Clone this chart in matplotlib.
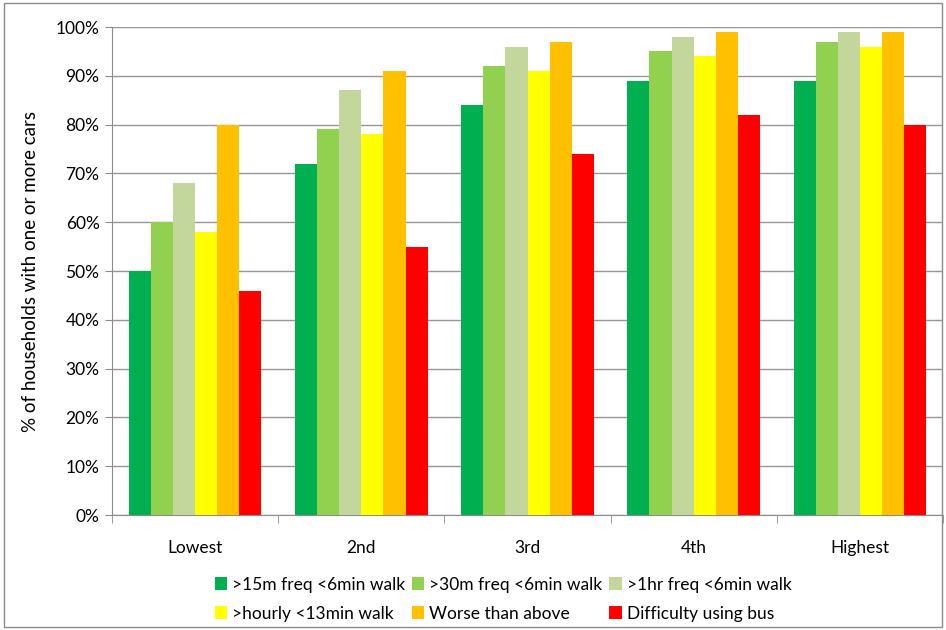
import numpy as np
import matplotlib
matplotlib.use('Agg')
import matplotlib.pyplot as plt
from matplotlib.patches import Rectangle

plt.rcParams['font.family'] = ['Lato', 'DejaVu Sans']

categories = ['Lowest', '2nd', '3rd', '4th', 'Highest']
series = ['>15m freq <6min walk', '>30m freq <6min walk', '>1hr freq <6min walk',
          '>hourly <13min walk', 'Worse than above', 'Difficulty using bus']
values = [
    [50, 72, 84, 89, 89],
    [60, 79, 92, 95, 97],
    [68, 87, 96, 98, 99],
    [58, 78, 91, 94, 96],
    [80, 91, 97, 99, 99],
    [46, 55, 74, 82, 80],
]
colors = ['#00B050', '#92D050', '#C3D69B', '#FFFF00', '#FFC000', '#FF0000']

fig = plt.figure(figsize=(9.46, 6.30), dpi=100)
ax = fig.add_axes([112 / 946, 1 - 515 / 630, (943 - 112) / 946, (515 - 27) / 630])

# chart area border
fig.patches.append(Rectangle((0.004, 0.004), 0.992, 0.992, transform=fig.transFigure,
                             fill=False, edgecolor='#8C8C8C', linewidth=1))

x = np.arange(len(categories))
w = 0.133
bars = []
for i, (name, vals) in enumerate(zip(series, values)):
    bars.append(ax.bar(x + (i - 2.5) * w, vals, width=w, color=colors[i], label=name, zorder=3))

ax.set_xlim(-0.5, len(categories) - 0.5)
ax.set_ylim(0, 100)
ax.set_yticks(np.arange(0, 101, 10))
ax.set_yticklabels([f'{v}%' for v in range(0, 101, 10)], fontsize=12.5)
ax.set_xticks(x)
ax.set_xticklabels(categories, fontsize=12.5)
ax.tick_params(axis='x', length=0, pad=18)
ax.set_xticks(np.arange(-0.5, len(categories), 1), minor=True)
ax.tick_params(axis='x', which='minor', length=6, color='#8C8C8C')
ax.tick_params(axis='y', length=5, color='#8C8C8C', pad=4)
ax.grid(axis='y', color='#969696', linewidth=1, zorder=0)
for s in ['top', 'right']:
    ax.spines[s].set_visible(False)
for s in ['left', 'bottom']:
    ax.spines[s].set_color('#8C8C8C')
ax.set_ylabel('% of households with one or more cars', fontsize=13.5, labelpad=12)

# row-major legend order
order = [0, 3, 1, 4, 2, 5]
fig.legend([bars[i] for i in order], [series[i] for i in order],
           loc='upper left', bbox_to_anchor=(199 / 946, 1 - 561 / 630), ncol=3, frameon=False,
           fontsize=12.5, handlelength=0.7, handleheight=0.7, handletextpad=0.3,
           columnspacing=0.4, labelspacing=0.75)

fig.savefig('out.png', dpi=100)
